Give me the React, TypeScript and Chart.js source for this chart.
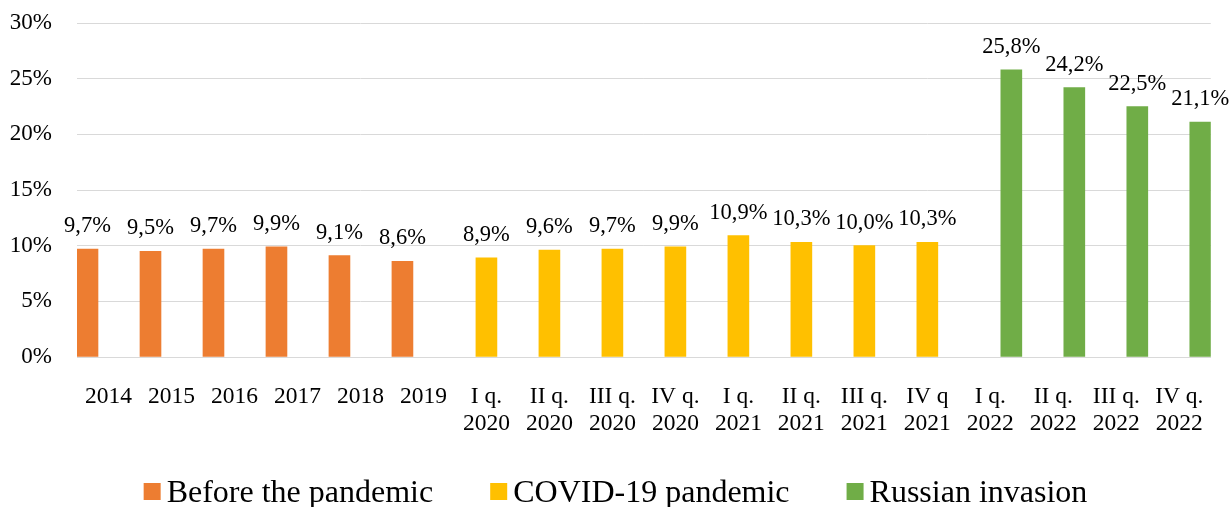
import React, { useEffect, useRef } from 'react';
import { Chart, registerables } from 'chart.js';

Chart.register(...registerables);

const categories: (string | string[])[] = [
  '2014', '2015', '2016', '2017', '2018', '2019',
  ['I q.', '2020'], ['II q.', '2020'], ['III q.', '2020'], ['IV q.', '2020'],
  ['I q.', '2021'], ['II q.', '2021'], ['III q.', '2021'], ['IV q', '2021'],
  ['I q.', '2022'], ['II q.', '2022'], ['III q.', '2022'], ['IV q.', '2022'],
];

const beforePandemic: (number | null)[] = [9.7, 9.5, 9.7, 9.9, 9.1, 8.6, null, null, null, null, null, null, null, null, null, null, null, null];
const covidPandemic: (number | null)[] = [null, null, null, null, null, null, 8.9, 9.6, 9.7, 9.9, 10.9, 10.3, 10.0, 10.3, null, null, null, null];
const russianInvasion: (number | null)[] = [null, null, null, null, null, null, null, null, null, null, null, null, null, null, 25.8, 24.2, 22.5, 21.1];

const seriesNames = ['Before the pandemic', 'COVID-19 pandemic', 'Russian invasion'];
const seriesColors = ['#ED7D31', '#FFC000', '#70AD47'];

const yMin = 0;
const yMax = 30;
const yStep = 5;

const FONT = "'Liberation Serif', 'Times New Roman', serif";

const dataLabelPlugin = {
  id: 'dataLabels',
  afterDatasetsDraw(chart: any) {
    const ctx = chart.ctx;
    ctx.save();
    ctx.font = `22.5px ${FONT}`;
    ctx.fillStyle = '#000';
    ctx.textAlign = 'center';
    ctx.textBaseline = 'alphabetic';
    chart.data.datasets.forEach((ds: any, i: number) => {
      const meta = chart.getDatasetMeta(i);
      meta.data.forEach((bar: any, j: number) => {
        const v = ds.data[j];
        if (v === null || v === undefined) return;
        const txt = v.toFixed(1).replace('.', ',') + '%';
        ctx.fillText(txt, bar.x, bar.y - 17);
      });
    });
    ctx.restore();
  },
};

const legendPlugin = {
  id: 'customLegend',
  afterDraw(chart: any) {
    const ctx = chart.ctx;
    ctx.save();
    ctx.font = `32px ${FONT}`;
    const box = 17;
    const gapBoxText = 6;
    const gapItems = 57;
    const items = chart.data.datasets.map((ds: any) => ({
      label: ds.label,
      color: ds.backgroundColor,
      w: box + gapBoxText + ctx.measureText(ds.label).width,
    }));
    const total = items.reduce((s: number, it: any) => s + it.w, 0) + gapItems * (items.length - 1);
    let x = (chart.width - total) / 2;
    const baseline = 502;
    items.forEach((it: any) => {
      ctx.fillStyle = it.color;
      ctx.fillRect(x, 483, box, box);
      ctx.fillStyle = '#000';
      ctx.textAlign = 'left';
      ctx.textBaseline = 'alphabetic';
      ctx.fillText(it.label, x + box + gapBoxText, baseline);
      x += it.w + gapItems;
    });
    ctx.restore();
  },
};

export default function App() {
  const canvasRef = useRef<HTMLCanvasElement | null>(null);

  useEffect(() => {
    if (!canvasRef.current) return;
    const chart = new Chart(canvasRef.current, {
      type: 'bar',
      data: {
        labels: categories,
        datasets: [
          { label: seriesNames[0], data: beforePandemic, backgroundColor: seriesColors[0] },
          { label: seriesNames[1], data: covidPandemic, backgroundColor: seriesColors[1] },
          { label: seriesNames[2], data: russianInvasion, backgroundColor: seriesColors[2] },
        ],
      },
      options: {
        animation: false,
        responsive: true,
        maintainAspectRatio: false,
        datasets: { bar: { categoryPercentage: 1, barPercentage: 1 } },
        layout: { padding: { top: 23, right: 20, bottom: 50, left: 0 } },
        plugins: {
          legend: { display: false },
          tooltip: { enabled: false },
        },
        scales: {
          x: {
            grid: { display: false, drawTicks: false },
            border: { display: true, color: '#D9D9D9', width: 1 },
            ticks: {
              color: '#000',
              font: { family: FONT, size: 23.5, lineHeight: 1.12 },
              maxRotation: 0,
              minRotation: 0,
              autoSkip: false,
              padding: 27,
            },
            afterFit: (s: any) => { s.height = 100; },
          },
          y: {
            min: yMin,
            max: yMax,
            grid: { color: '#D9D9D9', lineWidth: 1, drawTicks: false },
            border: { display: false },
            ticks: {
              stepSize: yStep,
              color: '#000',
              font: { family: FONT, size: 23 },
              padding: 25,
              callback: (v: any) => v + '%',
            },
            afterFit: (s: any) => { s.width = 77; s.paddingTop = 0; s.paddingBottom = 0; },
          },
        },
      },
      plugins: [dataLabelPlugin, legendPlugin],
    });
    return () => chart.destroy();
  }, []);

  return (
    <div style={{ position: 'absolute', left: 0, top: 0, width: 1231, height: 507, background: '#fff' }}>
      <canvas ref={canvasRef} />
    </div>
  );
}
